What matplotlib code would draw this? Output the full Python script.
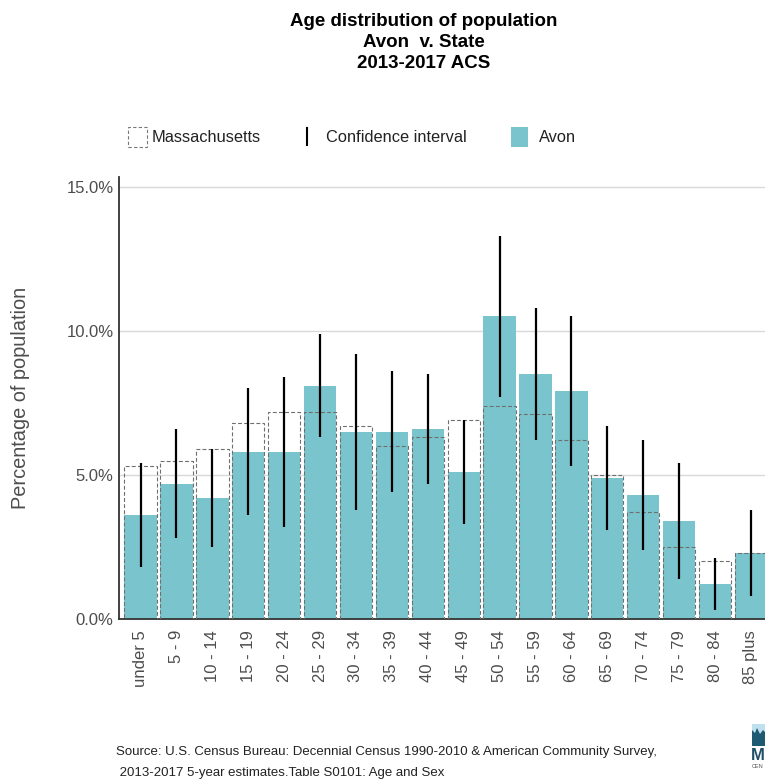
import matplotlib.pyplot as plt
from matplotlib.patches import Rectangle, Polygon
from matplotlib.lines import Line2D
import numpy as np

age_groups = ["under 5", "5 - 9", "10 - 14", "15 - 19", "20 - 24", "25 - 29",
              "30 - 34", "35 - 39", "40 - 44", "45 - 49", "50 - 54", "55 - 59",
              "60 - 64", "65 - 69", "70 - 74", "75 - 79", "80 - 84", "85 plus"]
avon = [3.6, 4.7, 4.2, 5.8, 5.8, 8.1, 6.5, 6.5, 6.6, 5.1, 10.5, 8.5, 7.9,
        4.9, 4.3, 3.4, 1.2, 2.3]
massachusetts = [5.3, 5.5, 5.9, 6.8, 7.2, 7.2, 6.7, 6.0, 6.3, 6.9, 7.4, 7.1,
                 6.2, 5.0, 3.7, 2.5, 2.0, 2.3]
ci_low = [1.8, 2.8, 2.5, 3.6, 3.2, 6.3, 3.8, 4.4, 4.7, 3.3, 7.7, 6.2, 5.3,
          3.1, 2.4, 1.4, 0.3, 0.8]
ci_high = [5.4, 6.6, 5.9, 8.0, 8.4, 9.9, 9.2, 8.6, 8.5, 6.9, 13.3, 10.8, 10.5,
           6.7, 6.2, 5.4, 2.1, 3.8]
y_ticks = [0, 5, 10, 15]

TEAL = "#7AC5CD"
W, H = 765, 784


def px(x, y):
    # pixel position (from top left) -> figure fraction
    return x / W, 1 - y / H


plt.rcParams["font.family"] = ["Liberation Sans", "DejaVu Sans"]

fig = plt.figure(figsize=(W / 100, H / 100), dpi=100)
ax = fig.add_axes([119 / W, 165 / H, (772.5 - 119) / W, (607.3 - 165) / H])

x = np.arange(len(age_groups))
ax.bar(x, avon, width=0.9, color=TEAL, zorder=2)
ax.bar(x, massachusetts, width=0.9, fill=False, edgecolor="#6E6E6E",
       linewidth=0.8, linestyle=(0, (3.5, 2)), zorder=3)
ax.vlines(x, ci_low, ci_high, color="black", linewidth=1.6, zorder=4)

ax.set_xlim(-0.6, len(age_groups) - 0.4)
ax.set_ylim(0, 15.35)
ax.set_xticks(x)
ax.set_xticklabels(age_groups, rotation=90, fontsize=12, color="#4D4D4D")
ax.set_yticks(y_ticks)
ax.set_yticklabels([f"{v:.1f}%" for v in y_ticks], fontsize=12, color="#4D4D4D")
ax.tick_params(axis="x", length=0, pad=8)
ax.tick_params(axis="y", length=0, pad=4)
ax.grid(axis="y", color="#D9D9D9", linewidth=1.0, zorder=0)
ax.set_axisbelow(True)
for side in ["top", "right"]:
    ax.spines[side].set_visible(False)
for side in ["left", "bottom"]:
    ax.spines[side].set_color("#333333")
    ax.spines[side].set_linewidth(1.3)
ax.set_ylabel("Percentage of population", fontsize=14.4, color="#4D4D4D")
ax.yaxis.set_label_coords(-(119 - 30) / (772.5 - 119), 0.5)

# title
fig.text(*px(424, 42.5), "Age distribution of population\nAvon  v. State\n2013-2017 ACS",
         ha="center", va="center", fontsize=13.5, fontweight="bold",
         linespacing=1.32)

# legend
fig.add_artist(Rectangle(px(127.5, 146.5), 19.5 / W, 20 / H, fill=False,
                         edgecolor="#777777", linewidth=0.8,
                         linestyle=(0, (3, 2)), transform=fig.transFigure))
fig.text(*px(151.5, 137), "Massachusetts", ha="left", va="center",
         fontsize=11.8, color="#222222")
fig.add_artist(Line2D([306.5 / W, 306.5 / W], [1 - 145 / H, 1 - 128 / H],
                      color="black", linewidth=1.5, transform=fig.transFigure))
fig.text(*px(326, 137), "Confidence interval", ha="left", va="center",
         fontsize=11.8, color="#222222")
fig.add_artist(Rectangle(px(510.7, 146.5), 17.6 / W, 20 / H, facecolor=TEAL,
                         edgecolor="none", transform=fig.transFigure))
fig.text(*px(539.3, 137), "Avon", ha="left", va="center",
         fontsize=11.8, color="#222222")

# source
fig.text(*px(116, 752), "Source: U.S. Census Bureau: Decennial Census 1990-2010 & American Community Survey,",
         ha="left", va="center", fontsize=9.5, color="#222222")
fig.text(*px(116, 773), " 2013-2017 5-year estimates.Table S0101: Age and Sex",
         ha="left", va="center", fontsize=9.5, color="#222222")

# logo (partially cut off at the right edge)
fig.add_artist(Rectangle(px(752, 746), 14 / W, 22 / H, facecolor="#BFE0EE",
                         edgecolor="none", transform=fig.transFigure))
fig.add_artist(Polygon([px(752, 746), px(752, 730), px(755, 733), px(757, 728),
                        px(760, 734), px(763, 730), px(766, 733), px(766, 746)],
                       closed=True, facecolor="#1F5A73", edgecolor="none",
                       transform=fig.transFigure))
fig.text(*px(751, 756), "M", ha="left", va="center", fontsize=12,
         fontweight="bold", color="#1F4F66")
fig.text(*px(752, 767), "CEN", ha="left", va="center", fontsize=4,
         color="#555555")

fig.savefig("out.png", dpi=100)
